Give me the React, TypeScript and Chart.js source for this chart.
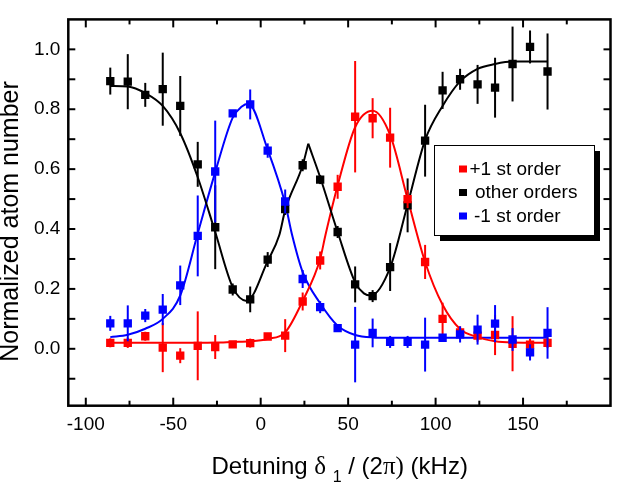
import React, { useEffect, useRef } from "react";
import { Chart, registerables } from "chart.js";

Chart.register(...registerables);

// ---------- data ----------
const detuning = [-86, -76, -66, -56, -46, -36, -26, -16, -6, 4, 14, 24, 34, 44, 54, 64, 74, 84, 94, 104, 114, 124, 134, 144, 154, 164];

const plusFirst = [0.02, 0.02, 0.042, 0.004, -0.023, 0.01, 0.006, 0.015, 0.019, 0.041, 0.044, 0.158, 0.295, 0.541, 0.775, 0.77, 0.705, 0.5, 0.29, 0.1, 0.055, 0.044, 0.046, 0.017, 0.014, 0.02];
const plusErr = [0.015, 0.017, 0.015, 0.082, 0.025, 0.115, 0.04, 0.01, 0.015, 0.01, 0.055, 0.03, 0.03, 0.04, 0.186, 0.067, 0.1, 0.03, 0.057, 0.054, 0.02, 0.02, 0.067, 0.092, 0.02, 0.018];

const otherOrders = [0.894, 0.892, 0.848, 0.867, 0.811, 0.616, 0.406, 0.198, 0.165, 0.298, 0.467, 0.613, 0.565, 0.39, 0.215, 0.176, 0.273, 0.479, 0.695, 0.863, 0.9, 0.883, 0.872, 0.951, 1.008, 0.926];
const otherErr = [0.045, 0.092, 0.04, 0.122, 0.1, 0.075, 0.14, 0.02, 0.043, 0.025, 0.02, 0.02, 0.015, 0.02, 0.06, 0.02, 0.08, 0.09, 0.12, 0.062, 0.035, 0.065, 0.1, 0.125, 0.055, 0.127];

const minusFirst = [0.085, 0.085, 0.111, 0.131, 0.212, 0.377, 0.592, 0.786, 0.816, 0.662, 0.492, 0.233, 0.139, 0.069, 0.014, 0.053, 0.023, 0.023, 0.014, 0.037, 0.048, 0.064, 0.084, 0.031, -0.012, 0.053];
const minusErr = [0.025, 0.06, 0.022, 0.052, 0.066, 0.135, 0.17, 0.01, 0.05, 0.024, 0.04, 0.03, 0.02, 0.01, 0.126, 0.048, 0.02, 0.02, 0.09, 0.01, 0.027, 0.05, 0.062, 0.038, 0.027, 0.086];

// fitted curves
const fitPlusX = [-86, -46, -26, -16, -6, 4, 14, 24, 34, 37, 44, 54, 64, 74, 84, 94, 104, 114, 124, 134, 144, 164];
const fitPlusY = [0.02, 0.02, 0.021, 0.023, 0.025, 0.033, 0.055, 0.16, 0.3, 0.379, 0.545, 0.74, 0.795, 0.714, 0.5, 0.29, 0.147, 0.066, 0.039, 0.025, 0.021, 0.02];

const fitMinusX = [-86, -76, -66, -56, -46, -36, -26, -16, -11, -7, 4, 14, 18, 24, 34, 44, 54, 64, 74, 164];
const fitMinusY = [0.039, 0.047, 0.067, 0.1, 0.178, 0.385, 0.59, 0.772, 0.808, 0.818, 0.665, 0.485, 0.379, 0.256, 0.152, 0.077, 0.046, 0.038, 0.037, 0.037];

const fitOtherLeftX = [-86, -76, -66, -56, -46, -36, -26, -16, -8, 4, 10.6, 14, 24, 27.2];
const fitOtherLeftY = [0.878, 0.876, 0.854, 0.811, 0.72, 0.573, 0.39, 0.206, 0.16, 0.293, 0.379, 0.463, 0.613, 0.685];
const fitOtherRightX = [27.2, 34, 44, 54, 59, 63, 74, 84, 94, 104, 114, 124, 134, 144, 164];
const fitOtherRightY = [0.685, 0.573, 0.39, 0.222, 0.185, 0.178, 0.271, 0.482, 0.697, 0.811, 0.893, 0.935, 0.951, 0.959, 0.959];

const seriesNames = ["+1 st order", "other orders", "-1 st order"];

const xLabelTicks = [-100, -50, 0, 50, 100, 150];
const xMinorTicks = [-75, -25, 25, 75, 125, 175];
const yLabelTicks = [0, 0.2, 0.4, 0.6, 0.8, 1.0];
const yAllTicks = [-0.1, 0, 0.1, 0.2, 0.3, 0.4, 0.5, 0.6, 0.7, 0.8, 0.9, 1.0];

const xTitleParts = ["Detuning ", "\u03B4", " ", "1", " / (2", "\u03C0)", " (kHz)"];
const yTitle = "Normalized atom number";

// ---------- styles ----------
const SANS = '"Liberation Sans", Arial, Helvetica, sans-serif';
const SERIF = '"Liberation Serif", "Times New Roman", serif';
const RED = "#ff0000";
const BLUE = "#0000ff";
const BLACK = "#000000";

const pts = (xs: number[], ys: number[]) => xs.map((x, i) => ({ x, y: ys[i] }));

const errorBarPlugin = {
  id: "errorBars",
  beforeDatasetDraw(chart: any, args: any) {
    const ds = chart.data.datasets[args.index];
    if (!ds.errors) return;
    const { ctx, scales } = chart;
    const xs = scales.x;
    const ys = scales.y;
    ctx.save();
    ctx.strokeStyle = ds.errColor;
    ctx.lineWidth = 2;
    ds.data.forEach((p: any, i: number) => {
      const e = ds.errors[i];
      const px = xs.getPixelForValue(p.x);
      ctx.beginPath();
      ctx.moveTo(px, ys.getPixelForValue(p.y - e));
      ctx.lineTo(px, ys.getPixelForValue(p.y + e));
      ctx.stroke();
    });
    ctx.restore();
  },
};

const decorPlugin = {
  id: "decor",
  afterDraw(chart: any) {
    const { ctx, chartArea: a, scales } = chart;
    const xs = scales.x;
    const ys = scales.y;
    ctx.save();
    ctx.strokeStyle = BLACK;
    ctx.lineWidth = 2;
    const seg = (x1: number, y1: number, x2: number, y2: number) => {
      ctx.beginPath();
      ctx.moveTo(x1, y1);
      ctx.lineTo(x2, y2);
      ctx.stroke();
    };
    xLabelTicks.forEach((v) => {
      const px = xs.getPixelForValue(v);
      seg(px, a.bottom, px, a.bottom - 8);
      seg(px, a.top, px, a.top + 8);
    });
    xMinorTicks.forEach((v) => {
      const px = xs.getPixelForValue(v);
      seg(px, a.bottom, px, a.bottom - 5);
      seg(px, a.top, px, a.top + 5);
    });
    yAllTicks.forEach((v) => {
      const py = ys.getPixelForValue(v);
      seg(a.left, py, a.left + 7, py);
      seg(a.right, py, a.right - 7, py);
    });
    ctx.lineWidth = 2.5;
    ctx.strokeRect(a.left, a.top, a.right - a.left, a.bottom - a.top);

    // legend
    const lx = 434, ly = 145, lw = 160, lh = 90;
    ctx.fillStyle = BLACK;
    ctx.fillRect(lx + 6, ly + 6, lw, lh);
    ctx.fillStyle = "#ffffff";
    ctx.fillRect(lx, ly, lw, lh);
    ctx.lineWidth = 1;
    ctx.strokeRect(lx + 0.5, ly + 0.5, lw, lh);
    const colors = [RED, BLACK, BLUE];
    const baselines = [174.5, 198, 221.5];
    const textX = [469.5, 475, 474];
    ctx.font = `19px ${SANS}`;
    ctx.textBaseline = "alphabetic";
    ctx.textAlign = "left";
    seriesNames.forEach((name, i) => {
      ctx.fillStyle = colors[i];
      ctx.fillRect(459, baselines[i] - 9, 8, 7);
      ctx.fillStyle = BLACK;
      ctx.fillText(name, textX[i], baselines[i]);
    });

    // y title
    ctx.save();
    ctx.translate(18, 221.5);
    ctx.rotate(-Math.PI / 2);
    ctx.font = `25px ${SANS}`;
    ctx.textAlign = "center";
    ctx.fillStyle = BLACK;
    ctx.fillText(yTitle, 0, 0);
    ctx.restore();

    // x title
    const fonts = [
      `24px ${SANS}`,
      `25px ${SERIF}`,
      `24px ${SANS}`,
      `16px ${SANS}`,
      `24px ${SANS}`,
      `25px ${SERIF}`,
      `24px ${SANS}`,
    ];
    const dys = [0, 0, 0, 8, 0, 0, 0];
    let total = 0;
    const widths = xTitleParts.map((t, i) => {
      ctx.font = fonts[i];
      const w = ctx.measureText(t).width;
      total += w;
      return w;
    });
    let cx = 339.7 - total / 2;
    ctx.fillStyle = BLACK;
    ctx.textAlign = "left";
    xTitleParts.forEach((t, i) => {
      ctx.font = fonts[i];
      ctx.fillText(t, cx, 474 + dys[i]);
      cx += widths[i];
    });
    ctx.restore();
  },
};

export default function App() {
  const canvasRef = useRef<HTMLCanvasElement | null>(null);

  useEffect(() => {
    if (!canvasRef.current) return;
    const lineDs = (label: string, xs: number[], ys: number[], color: string) => ({
      type: "line" as const,
      label,
      data: pts(xs, ys),
      borderColor: color,
      backgroundColor: color,
      borderWidth: 2,
      pointRadius: 0,
      showLine: true,
      fill: false,
      cubicInterpolationMode: "monotone" as const,
      order: 10,
    });
    const pointDs = (label: string, ys: number[], errs: number[], color: string, order: number) => ({
      type: "scatter" as const,
      label,
      data: pts(detuning, ys),
      pointStyle: "rect",
      pointRadius: 5.9,
      pointBorderWidth: 0,
      backgroundColor: color,
      borderColor: color,
      showLine: false,
      order,
      errors: errs,
      errColor: color,
    });

    const chart = new Chart(canvasRef.current, {
      type: "scatter",
      data: {
        datasets: [
          lineDs("fit other L", fitOtherLeftX, fitOtherLeftY, BLACK),
          lineDs("fit other R", fitOtherRightX, fitOtherRightY, BLACK),
          lineDs("fit +1", fitPlusX, fitPlusY, RED),
          lineDs("fit -1", fitMinusX, fitMinusY, BLUE),
          pointDs(seriesNames[1], otherOrders, otherErr, BLACK, 3),
          pointDs(seriesNames[0], plusFirst, plusErr, RED, 2),
          pointDs(seriesNames[2], minusFirst, minusErr, BLUE, 1),
        ] as any,
      },
      options: {
        animation: false,
        responsive: false,
        devicePixelRatio: 1,
        layout: { padding: { top: 7, right: 9.5, left: 0, bottom: 0 } },
        plugins: {
          legend: { display: false },
          tooltip: { enabled: false },
        },
        scales: {
          x: {
            type: "linear",
            min: -110,
            max: 200,
            grid: { display: false, drawTicks: false },
            border: { display: false },
            afterBuildTicks: (s: any) => {
              s.ticks = xLabelTicks.map((v) => ({ value: v }));
            },
            afterFit: (s: any) => {
              s.height = 78.3;
            },
            ticks: {
              color: BLACK,
              padding: 8,
              maxRotation: 0,
              autoSkip: false,
              font: { family: SANS, size: 19 },
              callback: (v: any) => String(v),
            },
          },
          y: {
            type: "linear",
            min: -0.19,
            max: 1.1,
            grid: { display: false, drawTicks: false },
            border: { display: false },
            afterBuildTicks: (s: any) => {
              s.ticks = yLabelTicks.map((v) => ({ value: v }));
            },
            afterFit: (s: any) => {
              s.width = 68.3;
            },
            ticks: {
              color: BLACK,
              padding: 8,
              autoSkip: false,
              font: { family: SANS, size: 19 },
              callback: (v: any) => Number(v).toFixed(1),
            },
          },
        },
      } as any,
      plugins: [errorBarPlugin, decorPlugin],
    });
    return () => chart.destroy();
  }, []);

  return (
    <div style={{ position: "absolute", left: 0, top: 0, width: 620, height: 484, background: "#fff" }}>
      <canvas ref={canvasRef} width={620} height={484} style={{ display: "block" }} />
    </div>
  );
}
